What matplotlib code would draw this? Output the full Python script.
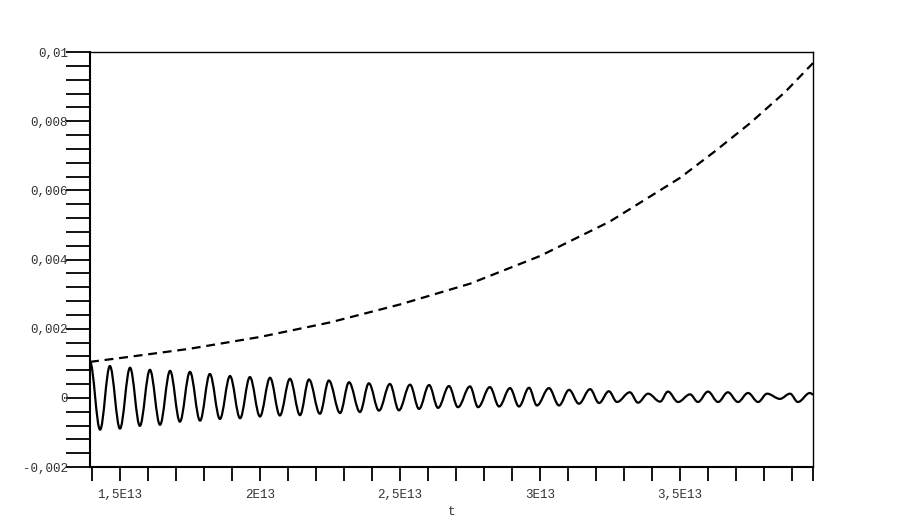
import matplotlib
matplotlib.use("Agg")
import matplotlib.pyplot as plt
from matplotlib.path import Path
from matplotlib.patches import PathPatch
from matplotlib.ticker import FixedLocator, FuncFormatter

# oscillating solution: extrema (t in units of 1E13)
t_osc = [1.393, 1.429, 1.464, 1.500, 1.536, 1.571, 1.607, 1.643, 1.679, 1.714,
         1.750, 1.786, 1.821, 1.857, 1.893, 1.929, 1.964, 2.000, 2.036, 2.071,
         2.107, 2.143, 2.175, 2.214, 2.246, 2.286, 2.318, 2.357, 2.389, 2.425,
         2.464, 2.496, 2.536, 2.568, 2.604, 2.636, 2.675, 2.707, 2.750, 2.779,
         2.821, 2.854, 2.893, 2.925, 2.961, 2.989, 3.032, 3.068, 3.104, 3.139,
         3.179, 3.211, 3.246, 3.275, 3.321, 3.350, 3.386, 3.429, 3.457, 3.493,
         3.536, 3.564, 3.600, 3.636, 3.671, 3.707, 3.743, 3.779, 3.811, 3.857,
         3.893, 3.921, 3.964, 3.975]
y_osc = [0.00104, -0.00092, 0.00092, -0.00089, 0.00087, -0.00081, 0.00081, -0.00078,
         0.00078, -0.00069, 0.00075, -0.00066, 0.00069, -0.00061, 0.00063, -0.00059,
         0.00060, -0.00054, 0.00058, -0.00051, 0.00055, -0.00050, 0.00053, -0.00046,
         0.00050, -0.00044, 0.00045, -0.00041, 0.00042, -0.00037, 0.00040, -0.00036,
         0.00038, -0.00032, 0.00037, -0.00029, 0.00034, -0.00027, 0.00033, -0.00027,
         0.00031, -0.00025, 0.00028, -0.00025, 0.00029, -0.00022, 0.00028, -0.00022,
         0.00023, -0.00017, 0.00025, -0.00015, 0.00019, -0.00012, 0.00016, -0.00014,
         0.00012, -0.00011, 0.00018, -0.00012, 0.00010, -0.00012, 0.00018, -0.00012,
         0.00016, -0.00012, 0.00014, -0.00012, 0.00012, -0.00003, 0.00012, -0.00012,
         0.00014, 0.00010]

# growing curve (dashed)
t_env = [1.393, 1.50, 1.75, 2.00, 2.25, 2.50, 2.75, 3.00, 3.25, 3.50, 3.625, 3.75,
         3.875, 3.975]
y_env = [0.00104, 0.00115, 0.00142, 0.00176, 0.00218, 0.00270, 0.00330, 0.00410,
         0.00510, 0.00636, 0.00713, 0.00794, 0.00884, 0.00968]

t_min, t_max = 1.393, 3.975
y_min, y_max = -0.002, 0.01
x_major = [1.5, 2.0, 2.5, 3.0, 3.5]
y_major = [-0.002, 0, 0.002, 0.004, 0.006, 0.008, 0.01]

mono = "Liberation Mono"

fig = plt.figure(figsize=(9.03, 5.20), dpi=100)
ax = fig.add_axes([90/903, 1-467/520, (813-90)/903, (467-52)/520])

# smooth the oscillation between extrema with cubic bezier pieces
# (horizontal tangent at each extremum, like a sine)
c = 0.3634
xs = [t*1e13 for t in t_osc]
verts = [(xs[0], y_osc[0])]
codes = [Path.MOVETO]
for i in range(1, len(xs)):
    dx = xs[i] - xs[i-1]
    verts += [(xs[i-1] + c*dx, y_osc[i-1]), (xs[i] - c*dx, y_osc[i]), (xs[i], y_osc[i])]
    codes += [Path.CURVE4]*3
ax.add_patch(PathPatch(Path(verts, codes), fill=False, edgecolor="black", lw=1.6))

ax.plot([t*1e13 for t in t_env], y_env, color="black", lw=1.6, dashes=(4, 2.6))

ax.set_xlim(t_min*1e13, t_max*1e13)
ax.set_ylim(y_min, y_max)

ax.xaxis.set_major_locator(FixedLocator([v*1e13 for v in x_major]))
ax.xaxis.set_minor_locator(FixedLocator([v/10*1e13 for v in range(14, 40)] + [t_max*1e13]))
ax.yaxis.set_major_locator(FixedLocator(y_major))
ax.yaxis.set_minor_locator(FixedLocator([round(-0.002 + 0.0004*i, 5) for i in range(31)]))

def xfmt(v, pos):
    s = "%g" % (v/1e13)
    return s.replace(".", ",") + "E13"

def yfmt(v, pos):
    if abs(v) < 1e-12:
        return "0"
    return ("%g" % v).replace(".", ",")

ax.xaxis.set_major_formatter(FuncFormatter(xfmt))
ax.yaxis.set_major_formatter(FuncFormatter(yfmt))

ax.tick_params(axis="x", which="both", direction="out", length=10, width=1.3,
               pad=6, labelsize=9, labelcolor="#333333")
ax.tick_params(axis="y", which="both", direction="out", length=17, width=1.3,
               pad=-1, labelsize=9, labelcolor="#333333")
for lab in ax.get_xticklabels() + ax.get_yticklabels():
    lab.set_family(mono)

ax.spines["left"].set_linewidth(1.5)
ax.spines["bottom"].set_linewidth(1.5)
ax.spines["top"].set_linewidth(1.0)
ax.spines["right"].set_linewidth(1.0)

fig.text(452/903, 1-506/520, "t", family=mono, fontsize=9, color="#333333",
         ha="center", va="top")

fig.savefig("out.png", dpi=100)
